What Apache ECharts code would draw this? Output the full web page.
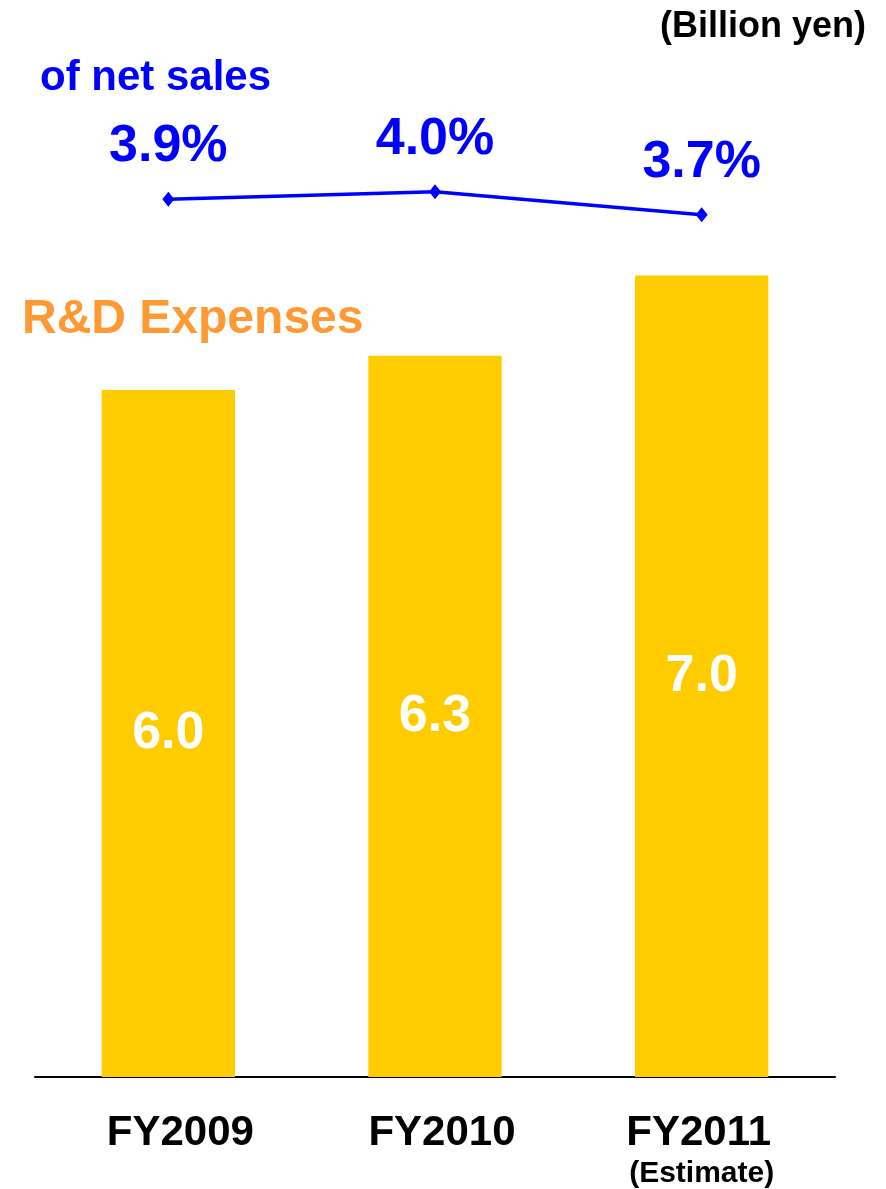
<!DOCTYPE html>
<html><head><meta charset="utf-8">
<script src="https://cdn.jsdelivr.net/npm/echarts@6/dist/echarts.min.js"></script>
<style>html,body{margin:0;padding:0;background:#fff}#c{width:886px;height:1189px}</style>
</head><body><div id="c"></div>
<script>
const categories = ['FY2009', 'FY2010', 'FY2011'];
const categorySubLabels = ['', '', '(Estimate)'];
const rdExpenses = [6.0, 6.3, 7.0];
const pctOfNetSales = [3.9, 4.0, 3.7];

const FONT = 'Liberation Sans, Arial, sans-serif';
const labelStyles = ['a', 'b', 'c'];
const chart = echarts.init(document.getElementById('c'));
chart.setOption({
  backgroundColor: '#ffffff',
  animation: false,
  grid: [
    {left: 35, right: 51, top: 161, bottom: 112, outerBoundsMode: 'none', containLabel: false},
    {left: 35, right: 51, top: 115, height: 230, outerBoundsMode: 'none', containLabel: false}
  ],
  xAxis: [
    {type: 'category', gridIndex: 0, data: categories,
     axisLine: {lineStyle: {color: '#000', width: 2}}, axisTick: {show: false},
     axisLabel: {interval: 0, margin: 34, fontFamily: FONT, fontWeight: 'bold', color: '#000', fontSize: 42,
       formatter: (v, i) => '{' + labelStyles[i] + '|' + v + '}' + (categorySubLabels[i] ? '\n{s|' + categorySubLabels[i] + '}' : ''),
       rich: {
         a: {fontFamily: FONT, fontWeight: 'bold', fontSize: 42, lineHeight: 44, color: '#000', padding: [0, 0, 0, 24]},
         b: {fontFamily: FONT, fontWeight: 'bold', fontSize: 42, lineHeight: 44, color: '#000', padding: [0, 0, 0, 14]},
         c: {fontFamily: FONT, fontWeight: 'bold', fontSize: 42, lineHeight: 44, color: '#000', padding: [0, 0, 0, -6]},
         s: {fontFamily: FONT, fontWeight: 'bold', fontSize: 30, lineHeight: 38, color: '#000'}}}},
    {type: 'category', gridIndex: 1, data: categories, show: false}
  ],
  yAxis: [
    {type: 'value', gridIndex: 0, min: 0, max: 8, show: false, splitLine: {show: false}},
    {type: 'value', gridIndex: 1, min: 2, max: 5, show: false, splitLine: {show: false}}
  ],
  series: [
    {type: 'bar', xAxisIndex: 0, yAxisIndex: 0, data: rdExpenses, barWidth: '50%',
     itemStyle: {color: '#FFCC00'},
     label: {show: true, position: 'inside', color: '#fff', fontFamily: FONT, fontWeight: 'bold', fontSize: 52,
       formatter: p => p.value.toFixed(1)}},
    {type: 'line', xAxisIndex: 1, yAxisIndex: 1, data: pctOfNetSales,
     lineStyle: {color: '#0000FF', width: 3.5}, itemStyle: {color: '#0000FF'},
     symbol: 'diamond', symbolSize: [12, 15],
     label: {show: true, position: 'top', distance: 19, color: '#0000FF', fontFamily: FONT, fontWeight: 'bold', fontSize: 52,
       formatter: p => p.value.toFixed(1) + '%'}}
  ],
  graphic: [
    {type: 'text', right: 20, top: 9, style: {text: '(Billion yen)', font: 'bold 36px ' + FONT, fill: '#000'}},
    {type: 'text', left: 40, top: 57, style: {text: 'of net sales', font: 'bold 42px ' + FONT, fill: '#0000FF'}},
    {type: 'text', left: 22, top: 296, style: {text: 'R&D Expenses', font: 'bold 48px ' + FONT, fill: '#FF9933'}}
  ]
});
</script></body></html>
